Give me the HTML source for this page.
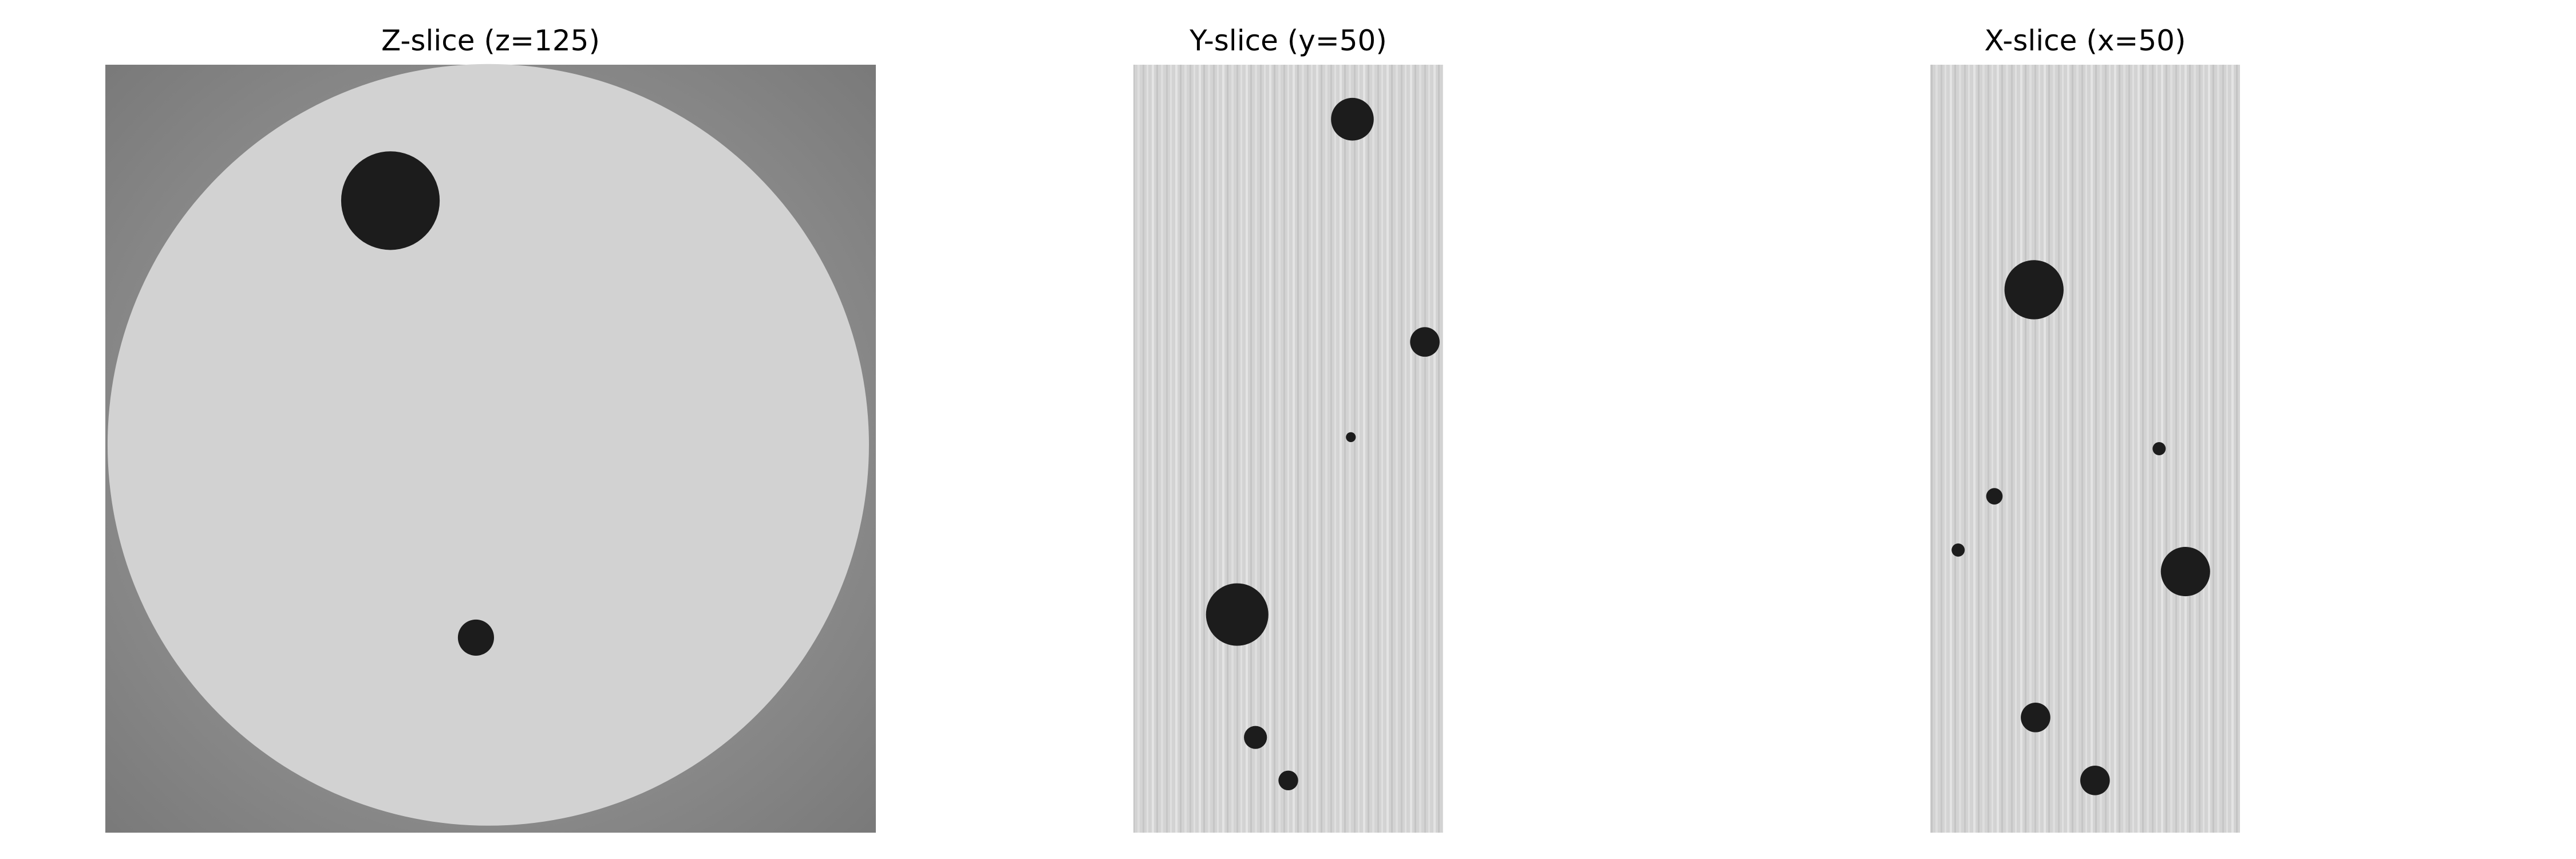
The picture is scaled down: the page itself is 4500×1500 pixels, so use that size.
<!DOCTYPE html>
<html><head><meta charset="utf-8"><style>
html,body{margin:0;padding:0;background:#fff;width:4500px;height:1500px;overflow:hidden}
svg{display:block}
text{font-family:"DejaVu Sans","Liberation Sans",sans-serif;font-size:50px;fill:#000}
</style></head><body>
<svg id="fig" width="4500" height="1500">
<defs>
<pattern id="stripes" width="41" height="1341" patternUnits="userSpaceOnUse">
<rect width="41" height="1341" fill="#d3d3d3"/>
<rect x="3" width="4" height="1341" fill="#e4e4e4"/>
<rect x="11" width="3" height="1341" fill="#c4c4c4"/>
<rect x="19" width="4" height="1341" fill="#dedede"/>
<rect x="28" width="3" height="1341" fill="#c6c6c6"/>
<rect x="35" width="3" height="1341" fill="#e0e0e0"/>
</pattern>
<radialGradient id="zbg" cx="0.5" cy="0.5" r="0.7">
<stop offset="0" stop-color="#a8a8a8"/><stop offset="1" stop-color="#7a7a7a"/>
</radialGradient>
</defs>
</svg>
<script>
// blob data: [x fraction, y fraction, radius (display units)]
const zBlobs = [[0.370,0.177,30],[0.481,0.746,11]];
const yBlobs = [[0.707,0.071,13],[0.941,0.361,9],[0.702,0.485,3],[0.335,0.716,19],[0.394,0.876,7],[0.500,0.932,6]];
const xBlobs = [[0.335,0.293,18],[0.739,0.500,4],[0.207,0.562,5],[0.090,0.632,4],[0.824,0.660,15],[0.340,0.850,9],[0.532,0.932,9]];
const titles = ["Z-slice (z=125)","Y-slice (y=50)","X-slice (x=50)"];

const NS="http://www.w3.org/2000/svg";
const svg=document.getElementById('fig');
const panels=[
 {x:184,w:1346,name:'z-slice',blobs:zBlobs},
 {x:1980,w:541,name:'y-slice',blobs:yBlobs},
 {x:3372,w:541,name:'x-slice',blobs:xBlobs}];
const panelTop=113,panelH=1341,S=2.87;
function mk(tag,attrs){const e=document.createElementNS(NS,tag);for(const k in attrs)e.setAttribute(k,attrs[k]);return e;}
panels.forEach((p,i)=>{
 const g=mk('g',{});
 
 
 svg.appendChild(g);
 const sx=f=>p.x+f*p.w, sy=f=>panelTop+f*panelH;
 if(i===0){
  const bg=mk('rect',{x:p.x,y:panelTop,width:p.w,height:panelH,fill:'url(#zbg)'});
  
  
  g.appendChild(bg);
  const c=mk('circle',{cx:sx(0.497),cy:sy(0.495),r:665,fill:'#d2d2d2'});
  
  
  g.appendChild(c);
 } else {
  const bg=mk('rect',{x:p.x,y:panelTop,width:p.w,height:panelH,fill:'url(#stripes)'});
  
  
  g.appendChild(bg);
 }
 p.blobs.forEach((b,j)=>{
  const c=mk('circle',{cx:sx(b[0]),cy:sy(b[1]),r:b[2]*S,fill:'#1c1c1c'});
  
  
  g.appendChild(c);
 });
 const t=mk('text',{x:p.x+p.w/2,y:88,'text-anchor':'middle'});
 t.textContent=titles[i];
 
 
 g.appendChild(t);
});
</script>
</body></html>
